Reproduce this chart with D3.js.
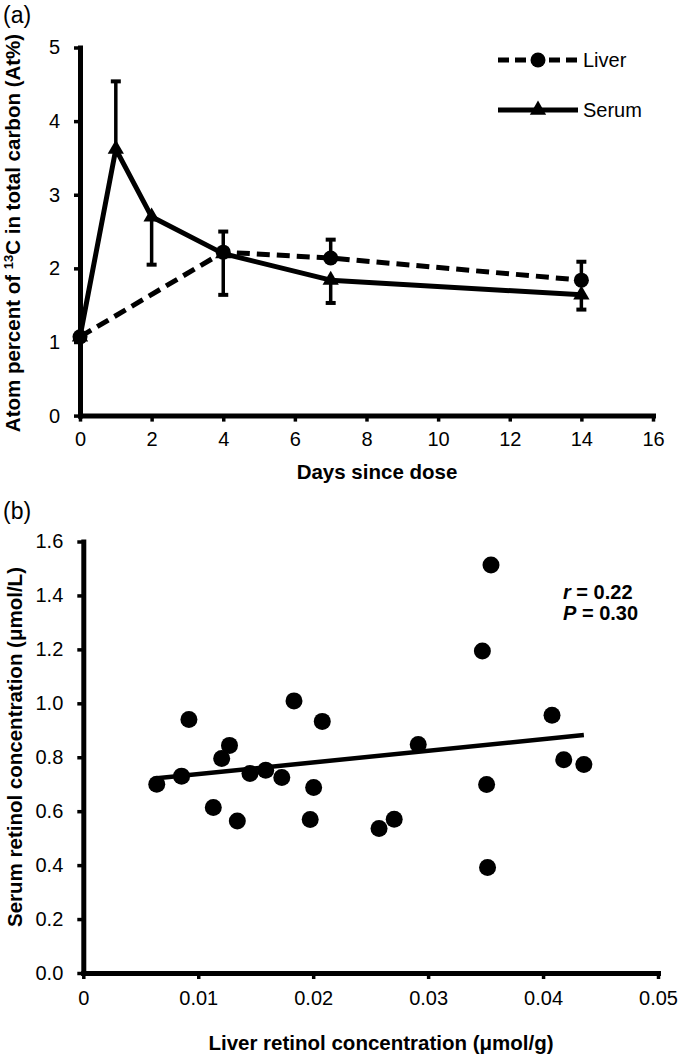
<!DOCTYPE html>
<html><head><meta charset="utf-8">
<script src="https://cdn.jsdelivr.net/npm/d3@7"></script>
<style>
html,body{margin:0;padding:0;background:#fff;}
svg text{font-family:"Liberation Sans",Arial,sans-serif;fill:#000;}
</style></head>
<body>
<svg id="c" width="683" height="1055"></svg>
<script>
// ---------- Panel (a) data ----------
const dayTicks = [0, 2, 4, 6, 8, 10, 12, 14, 16];
const atTicks = [0, 1, 2, 3, 4, 5];
const liverDays = [0, 4, 7, 14];
const liverMean = [1.07, 2.22, 2.14, 1.84];
const liverErr  = [0, 0.28, 0.25, 0.25];      // drawn upward
const serumDays = [0, 1, 2, 4, 7, 14];
const serumMean = [1.07, 3.62, 2.70, 2.20, 1.84, 1.64];
const serumErr  = [0, 0.92, 0.65, 0.56, 0.31, 0.20];
const serumErrDir = [0, 1, -1, -1, -1, -1];    // +1 up, -1 down
const seriesNames = ["Liver", "Serum"];

// ---------- Panel (b) data ----------
const liverRetinol = [0.03547, 0.03472, 0.00639, 0.00855, 0.00919, 0.01131, 0.01204, 0.01272,
  0.01340, 0.01450, 0.01587, 0.01727, 0.01833, 0.01974, 0.02004, 0.02079, 0.02573, 0.02705,
  0.02914, 0.03509, 0.04078, 0.04180, 0.04355, 0.03517];
const serumRetinol = [1.513, 1.194, 0.700, 0.730, 0.940, 0.614, 0.795, 0.844,
  0.564, 0.740, 0.752, 0.725, 1.009, 0.569, 0.688, 0.933, 0.536, 0.570,
  0.847, 0.699, 0.956, 0.791, 0.773, 0.391];
const liverTicks = [0, 0.01, 0.02, 0.03, 0.04, 0.05];
const liverTickLabels = ["0", "0.01", "0.02", "0.03", "0.04", "0.05"];
const serumTicks = [0, 0.2, 0.4, 0.6, 0.8, 1.0, 1.2, 1.4, 1.6];
const regSlope = 4.319, regIntercept = 0.6944;
const statR = "0.22", statP = "0.30";

const svg = d3.select("#c");
const TICKFS = 20, TITLEFS = 20.5;

// ================= Panel (a) =================
const xA = d3.scaleLinear().domain([0, 16]).range([80, 653]);
const yA = d3.scaleLinear().domain([0, 5]).range([415.6, 47.5]);
const gA = svg.append("g");

function styleAxis(g) {
  g.select(".domain").attr("stroke", "#000").attr("stroke-width", 5).attr("stroke-linecap", "square");
  g.selectAll(".tick line").attr("stroke", "#000").attr("stroke-width", 3.5);
  g.selectAll(".tick text").attr("font-size", TICKFS).attr("font-family", '"Liberation Sans",Arial,sans-serif').attr("fill", "#000");
}

gA.append("g").attr("transform", `translate(0,${yA(0)})`)
  .call(d3.axisBottom(xA).tickValues(dayTicks).tickSize(6).tickSizeOuter(0).tickPadding(10).tickFormat(d3.format("d")))
  .call(styleAxis);
gA.append("g").attr("transform", `translate(${xA(0)},0)`)
  .call(d3.axisLeft(yA).tickValues(atTicks).tickSize(6).tickSizeOuter(0).tickPadding(14).tickFormat(d3.format("d")))
  .call(styleAxis);

const liver = liverDays.map((d, i) => ({x: d, y: liverMean[i], e: liverErr[i], dir: 1}));
const serum = serumDays.map((d, i) => ({x: d, y: serumMean[i], e: serumErr[i], dir: serumErrDir[i]}));
const lineA = d3.line().x(d => xA(d.x)).y(d => yA(d.y));

gA.append("path").datum(liver).attr("d", lineA).attr("fill", "none").attr("stroke", "#000")
  .attr("stroke-width", 5).attr("stroke-dasharray", "13,7");
gA.append("path").datum(serum).attr("d", lineA).attr("fill", "none").attr("stroke", "#000")
  .attr("stroke-width", 5).attr("stroke-linejoin", "round");

function errBars(data) {
  const eb = gA.append("g").attr("stroke", "#000").attr("stroke-width", 3.5);
  data.filter(d => d.e > 0).forEach(d => {
    const cx = xA(d.x), y0 = yA(d.y), y1 = yA(d.y + d.dir * d.e);
    eb.append("line").attr("x1", cx).attr("x2", cx).attr("y1", y0).attr("y2", y1);
    eb.append("line").attr("x1", cx - 5).attr("x2", cx + 5).attr("y1", y1).attr("y2", y1).attr("stroke-width", 4);
  });
}
errBars(liver);
errBars(serum);

gA.selectAll("circle.liv").data(liver).join("circle")
  .attr("cx", d => xA(d.x)).attr("cy", d => yA(d.y)).attr("r", 7.5).attr("fill", "#000");
const tri = d3.symbol().type(d3.symbolTriangle).size(115);
gA.selectAll("path.ser").data(serum).join("path")
  .attr("transform", d => `translate(${xA(d.x)},${yA(d.y)})`).attr("d", tri).attr("fill", "#000");

// legend
const leg = gA.append("g");
[0, 1].forEach(i => {
  const ly = 60 + i * 50;
  leg.append("line").attr("x1", 498).attr("x2", 578).attr("y1", ly).attr("y2", ly)
    .attr("stroke", "#000").attr("stroke-width", 5).attr("stroke-dasharray", i === 0 ? "11,6" : null);
  if (i === 0) leg.append("circle").attr("cx", 538).attr("cy", ly).attr("r", 7.5).attr("fill", "#000");
  else leg.append("path").attr("transform", `translate(538,${ly})`).attr("d", tri).attr("fill", "#000");
  leg.append("text").attr("x", 583).attr("y", ly + 7).attr("font-size", TICKFS).text(seriesNames[i]);
});

// titles
gA.append("text").attr("x", 3).attr("y", 23).attr("font-size", 23).text("(a)");
gA.append("text").attr("x", 377).attr("y", 479).attr("text-anchor", "middle")
  .attr("font-size", TITLEFS).attr("font-weight", "bold").text("Days since dose");
const ytA = gA.append("text").attr("transform", "translate(20,233) rotate(-90)").attr("text-anchor", "middle")
  .attr("font-size", TITLEFS).attr("font-weight", "bold");
ytA.append("tspan").text("Atom percent of ");
ytA.append("tspan").attr("font-size", 13).attr("dy", -7).text("13");
ytA.append("tspan").attr("dy", 7).text("C in total carbon (At%)");

// ================= Panel (b) =================
const xB = d3.scaleLinear().domain([0, 0.05]).range([83.3, 658]);
const yB = d3.scaleLinear().domain([0, 1.6]).range([973, 541.5]);
const gB = svg.append("g");

gB.append("g").attr("transform", `translate(0,${yB(0)})`)
  .call(d3.axisBottom(xB).tickValues(liverTicks).tickSize(6).tickSizeOuter(0).tickPadding(12)
    .tickFormat((d, i) => liverTickLabels[i]))
  .call(styleAxis);
gB.append("g").attr("transform", `translate(${xB(0)},0)`)
  .call(d3.axisLeft(yB).tickValues(serumTicks).tickSize(6).tickSizeOuter(0).tickPadding(14).tickFormat(d3.format(".1f")))
  .call(styleAxis);

const pts = liverRetinol.map((x, i) => ({x, y: serumRetinol[i]}));
const xr = d3.extent(liverRetinol);
gB.append("line").attr("x1", xB(xr[0])).attr("x2", xB(xr[1]))
  .attr("y1", yB(regIntercept + regSlope * xr[0])).attr("y2", yB(regIntercept + regSlope * xr[1]))
  .attr("stroke", "#000").attr("stroke-width", 4.5);
gB.selectAll("circle").data(pts).join("circle")
  .attr("cx", d => xB(d.x)).attr("cy", d => yB(d.y)).attr("r", 8.5).attr("fill", "#000");

const st = gB.append("g").attr("font-size", 20).attr("font-weight", "bold");
const t1 = st.append("text").attr("x", 563).attr("y", 599);
t1.append("tspan").attr("font-style", "italic").text("r");
t1.append("tspan").text(" = " + statR);
const t2 = st.append("text").attr("x", 563).attr("y", 620);
t2.append("tspan").attr("font-style", "italic").text("P");
t2.append("tspan").text(" = " + statP);

gB.append("text").attr("x", 3).attr("y", 519).attr("font-size", 23).text("(b)");
gB.append("text").attr("x", 381).attr("y", 1050).attr("text-anchor", "middle")
  .attr("font-size", TITLEFS).attr("font-weight", "bold").text("Liver retinol concentration (μmol/g)");
gB.append("text").attr("transform", "translate(22,747) rotate(-90)").attr("text-anchor", "middle")
  .attr("font-size", TITLEFS).attr("font-weight", "bold").text("Serum retinol concentration (μmol/L)");
</script>
</body></html>
